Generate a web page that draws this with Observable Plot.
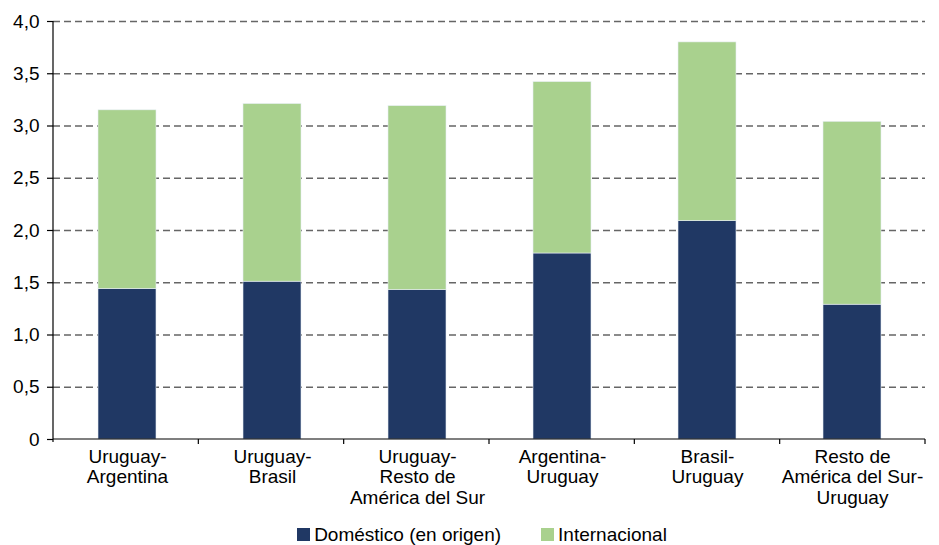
<!DOCTYPE html>
<html>
<head>
<meta charset="utf-8">
<script src="https://cdn.jsdelivr.net/npm/d3@7"></script>
<script src="https://cdn.jsdelivr.net/npm/@observablehq/plot@0.6"></script>
<style>
  html, body { margin: 0; padding: 0; background: #fff; }
  #chart { width: 939px; font-family: "Liberation Sans", Arial, sans-serif; }
  #legend { height: 35px; display: flex; justify-content: center; align-items: center;
            padding-left: 25px; padding-top: 14px; box-sizing: border-box;
            font-size: 19px; color: #000; font-family: "Liberation Sans", Arial, sans-serif; }
  .item { display: flex; align-items: center; margin: 0 20px; }
  .sw { width: 13px; height: 13px; margin-right: 4px; }
</style>
</head>
<body>
<div id="chart"></div>
<script>
const categories = [
  "Uruguay-\nArgentina",
  "Uruguay-\nBrasil",
  "Uruguay-\nResto de\nAmérica del Sur",
  "Argentina-\nUruguay",
  "Brasil-\nUruguay",
  "Resto de\nAmérica del Sur-\nUruguay"
];
const domestico = [1.44, 1.51, 1.43, 1.78, 2.09, 1.29];
const internacional = [1.71, 1.70, 1.76, 1.64, 1.71, 1.75];
const seriesNames = ["Doméstico (en origen)", "Internacional"];
const seriesColors = ["#203864", "#a9d18e"];
const yTicks = [0, 0.5, 1.0, 1.5, 2.0, 2.5, 3.0, 3.5, 4.0];

const data = [];
categories.forEach((c, i) => {
  data.push({cat: c, serie: seriesNames[0], value: domestico[i]});
  data.push({cat: c, serie: seriesNames[1], value: internacional[i]});
});

const fmt = d => d === 0 ? "0" : d.toFixed(1).replace(".", ",");

// custom mark: axis lines and category-boundary ticks
const axisLines = (index, scales, values, dim) => {
  const g = d3.create("svg:g").attr("stroke", "#000").attr("stroke-width", 1.2);
  const left = dim.marginLeft, right = dim.width - dim.marginRight;
  const y0 = scales.y(0), yTop = scales.y(4);
  g.append("line").attr("x1", left).attr("x2", left).attr("y1", yTop).attr("y2", y0 + 3);
  g.append("line").attr("x1", left).attr("x2", right).attr("y1", y0).attr("y2", y0);
  const n = categories.length, step = (right - left) / n;
  for (let i = 1; i <= n; i++) {
    const x = left + i * step;
    g.append("line").attr("x1", x).attr("x2", x).attr("y1", y0).attr("y2", y0 + 5);
  }
  return g.node();
};

const plot = Plot.plot({
  width: 939,
  height: 510,
  marginTop: 21,
  marginBottom: 71,
  marginLeft: 53,
  marginRight: 14,
  style: {fontFamily: "Liberation Sans, Arial, sans-serif", fontSize: "19px", color: "#000", background: "#fff"},
  x: {domain: categories, paddingInner: 0.6, paddingOuter: 0.3, axis: null},
  y: {domain: [0, 4], axis: null},
  color: {domain: seriesNames, range: seriesColors},
  marks: [
    Plot.ruleY(yTicks.filter(d => d > 0), {stroke: "#666", strokeWidth: 1.3, strokeDasharray: "7,4"}),
    Plot.barY(data, {x: "cat", y: "value", fill: "serie", order: seriesNames, stroke: "#e8eef4", strokeWidth: 0.6}),
    Plot.axisY({ticks: yTicks, tickFormat: fmt, tickSize: 6, tickPadding: 8, strokeWidth: 1.2, fontSize: 19, label: null}),
    Plot.axisX({tickSize: 0, tickPadding: 9, lineHeight: 1.07, fontSize: 19, label: null}),
    axisLines
  ]
});
document.getElementById("chart").appendChild(plot);

const legend = d3.select("body").append("div").attr("id", "legend");
seriesNames.forEach((s, i) => {
  const it = legend.append("div").attr("class", "item");
  it.append("div").attr("class", "sw").style("background", seriesColors[i]);
  it.append("span").text(s);
});
</script>
</body>
</html>
